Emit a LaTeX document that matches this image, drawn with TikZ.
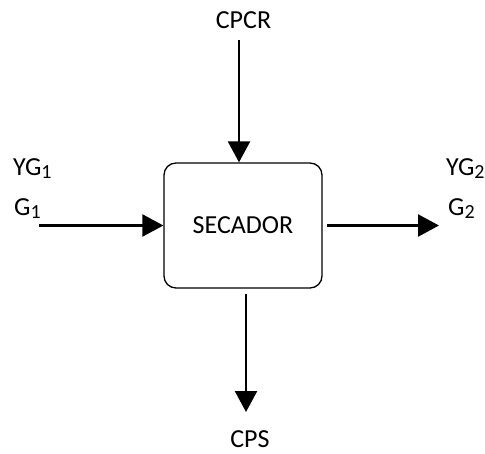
\documentclass[tikz,border=0pt]{standalone}
\usepackage{fontspec}
\setmainfont{Carlito}
\usetikzlibrary{arrows.meta}
\tikzset{
  flow/.style={line width=2.4pt, -{Triangle[length=21pt,width=22pt]}},
  unitbox/.style={draw, line width=1.3pt, rounded corners=12pt,
    minimum width=158pt, minimum height=125pt, inner sep=0pt},
  lbl/.style={inner sep=0pt, font=\fontsize{26}{30}\selectfont},
}
\newcommand{\sub}[1]{\raisebox{-0.15em}{\fontsize{20}{22}\selectfont #1}}
\begin{document}
\begin{tikzpicture}[x=1pt,y=-1pt]
  \useasboundingbox (0,0) rectangle (485,453);
  % dryer unit
  \node[unitbox, lbl] (dryer) at (243,225.5) {SECADOR};
  % stream labels
  \node[lbl, anchor=base] (cpcr) at (243.5,28.5) {CPCR};
  \node[lbl, anchor=base] (cps) at (250,447.5) {CPS};
  \node[lbl, anchor=base west] (yg1) at (13,175) {YG\sub{1}};
  \node[lbl, anchor=base west] (g1) at (14,215) {G\sub{1}};
  \node[lbl, anchor=base west] (yg2) at (446,175) {YG\sub{2}};
  \node[lbl, anchor=base west] (g2) at (448,215) {G\sub{2}};
  % free ends of the stream arrows
  \coordinate (topin) at (239,40);
  \coordinate (leftin) at (39,225.5);
  \coordinate (rightout) at (327,225.5);
  \coordinate (rightend) at (439,225.5);
  \coordinate (botout) at (246,294);
  \coordinate (botend) at (246,412);
  % streams
  \draw[flow] (topin) -- (topin |- dryer.north);
  \draw[flow] (leftin) -- (dryer.west);
  \draw[flow] (rightout) -- (rightend);
  \draw[flow] (botout) -- (botend);
\end{tikzpicture}
\end{document}
